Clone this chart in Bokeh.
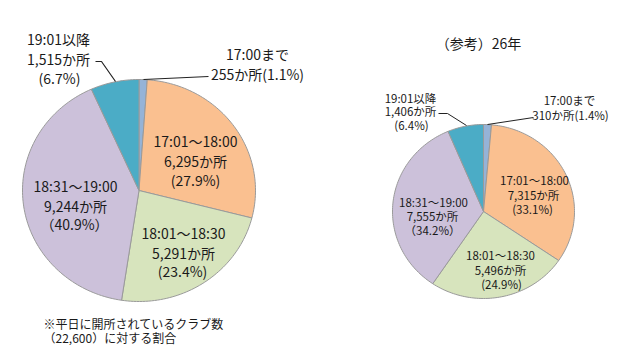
import numpy as np
from bokeh.plotting import figure
from bokeh.models import Range1d, ColumnDataSource
from bokeh.core.properties import value
from bokeh.embed import file_html
from bokeh.resources import INLINE

# ---- data ----
categories = ["17:00まで", "17:01～18:00", "18:01～18:30", "18:31～19:00", "19:01以降"]
counts_now = [255, 6295, 5291, 9244, 1515]
pct_now = [1.1, 27.9, 23.4, 40.9, 6.7]
counts_26 = [310, 7315, 5496, 7555, 1406]
pct_26 = [1.4, 33.1, 24.9, 34.2, 6.4]
colors = ["#95B3D7", "#FAC090", "#D7E4BD", "#CCC1DA", "#4BACC6"]
title_26 = "（参考）26年"
note_lines = ["※平日に開所されているクラブ数", "（22,600）に対する割合"]

FONT = value("Noto Sans CJK JP")
TXT = "#1a1a1a"

p = figure(width=624, height=345, x_range=Range1d(0, 624), y_range=Range1d(345, 0),
           output_backend="svg", toolbar_location=None, min_border=0,
           outline_line_color=None, background_fill_color="white")
p.axis.visible = False
p.grid.visible = False


def pie(counts, cx, cy, rx, ry):
    vals = np.array(counts, dtype=float)
    frac = vals / vals.sum()
    ends = np.cumsum(frac) * 2 * np.pi
    starts = ends - frac * 2 * np.pi
    xs, ys = [], []
    for a0, a1 in zip(starts, ends):
        t = np.linspace(a0, a1, max(4, int((a1 - a0) * 40)))
        xs.append(np.concatenate([[cx], cx + rx * np.sin(t)]).tolist())
        ys.append(np.concatenate([[cy], cy - ry * np.cos(t)]).tolist())
    src = ColumnDataSource(dict(xs=xs, ys=ys, c=colors))
    p.patches("xs", "ys", source=src, fill_color="c", line_color="#9a9a9a", line_width=1)


pie(counts_now, 138.5, 190, 116.5, 111)
pie(counts_26, 483, 211, 91, 87)


def pct_txt(v, full):
    return f"（{v}%）" if full else f"({v}%)"


def add_text(rows, size):
    src = ColumnDataSource(dict(x=[r[0] for r in rows], y=[r[1] for r in rows], t=[r[2] for r in rows]))
    p.text("x", "y", "t", source=src, text_font=FONT, text_font_size=size,
           text_align="center", text_baseline="middle", text_color=TXT)


# left pie labels
L = []
i = 0
L += [(257, 53, categories[i]), (257, 73, f"{counts_now[i]:,}か所{pct_txt(pct_now[i], False)}")]
i = 1
L += [(195, 140, categories[i]), (195, 160, f"{counts_now[i]:,}か所"), (195, 179, pct_txt(pct_now[i], False))]
i = 2
L += [(183, 232, categories[i]), (183, 252, f"{counts_now[i]:,}か所"), (182, 270, pct_txt(pct_now[i], False))]
i = 3
L += [(75, 185, categories[i]), (75, 205, f"{counts_now[i]:,}か所"), (74, 223, pct_txt(pct_now[i], True))]
i = 4
L += [(58, 38, categories[i]), (58, 58, f"{counts_now[i]:,}か所"), (59, 77, pct_txt(pct_now[i], False))]
add_text(L, "14px")

# right pie labels
R = []
i = 0
R += [(569, 99, categories[i]), (570, 114, f"{counts_26[i]:,}か所{pct_txt(pct_26[i], False)}")]
i = 1
R += [(534, 179, categories[i]), (533, 194, f"{counts_26[i]:,}か所"), (532, 208, pct_txt(pct_26[i], False))]
i = 2
R += [(500, 254, categories[i]), (500, 269, f"{counts_26[i]:,}か所"), (501, 283, pct_txt(pct_26[i], False))]
i = 3
R += [(433, 201, categories[i]), (432, 215, f"{counts_26[i]:,}か所"), (432, 229, pct_txt(pct_26[i], True))]
i = 4
R += [(410, 97, categories[i]), (410, 110, f"{counts_26[i]:,}か所"), (411, 124, pct_txt(pct_26[i], False))]
add_text(R, "11.5px")

# title of right pie
p.text([478], [42], [title_26], text_font=FONT, text_font_size="14px",
       text_align="center", text_baseline="middle", text_color=TXT)

# footnote (kept inside the 345px canvas)
p.text([43, 43], [323, 337], note_lines, text_font=FONT, text_font_size="12px",
       text_align="left", text_baseline="middle", text_color=TXT)

# leader lines
p.line([95, 101, 115], [61, 61, 81], line_color="#222222", line_width=1.2)
p.line([208, 143], [76, 79], line_color="#222222", line_width=1.2)
p.line([438, 447, 466], [113, 113, 125], line_color="#222222", line_width=1.0)
p.line([533, 487], [117, 124], line_color="#222222", line_width=1.0)

open("out.html", "w").write(file_html(p, INLINE))
